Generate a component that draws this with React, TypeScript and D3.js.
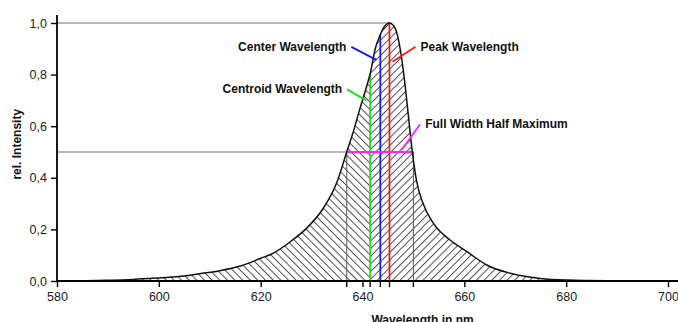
import { useEffect, useRef } from 'react';
import * as d3 from 'd3';

// spectrum
const wavelengths = [
  583, 588, 595, 600, 605, 608, 612, 616, 620, 622.5, 625.8, 629, 632.3, 634.9, 636.9,
  638.2, 639.5, 640.8, 641.6, 642.5, 643.4, 644.1, 645.3, 646.4, 647.4, 648.3, 649,
  649.7, 650.6, 651.9, 653.9, 657.2, 660.5, 664.4, 669, 674.9, 680.1, 690, 700,
];
const intensity = [
  0, 0.002, 0.006, 0.012, 0.019, 0.028, 0.04, 0.058, 0.088, 0.108, 0.152, 0.204, 0.282,
  0.379, 0.5, 0.579, 0.669, 0.753, 0.811, 0.9, 0.95, 0.98, 1.0, 0.98, 0.9, 0.77, 0.643,
  0.514, 0.39, 0.3, 0.224, 0.159, 0.114, 0.062, 0.03, 0.01, 0.004, 0.001, 0,
];

const xTicks = [580, 600, 620, 640, 660, 680, 700];
const yTicks = [0, 0.2, 0.4, 0.6, 0.8, 1.0];
const yTickLabels = ['0,0', '0,2', '0,4', '0,6', '0,8', '1,0'];

const fwhmLeft = 636.9;
const fwhmRight = 650.0;
const centroidWl = 641.5;
const centerWl = 643.5;
const peakWl = 645.3;

const WIDTH = 678;
const HEIGHT = 322;
const FONT = '"Liberation Sans", Arial, sans-serif';

export default function App() {
  const svgRef = useRef<SVGSVGElement>(null);

  useEffect(() => {
    if (!svgRef.current) return;
    const svg = d3.select(svgRef.current);
    svg.selectAll('*').remove();

    const x = d3.scaleLinear().domain([580, 700]).range([57, 668]);
    const y = d3.scaleLinear().domain([0, 1]).range([281, 23]);
    // piecewise linear lookup of the curve height
    const curveAt = d3.scaleLinear().domain(wavelengths).range(intensity);

    const pts: [number, number][] = wavelengths.map((w, i) => [w, intensity[i]]);

    const defs = svg.append('defs');
    const hatch = (id: string, angle: number) => {
      const p = defs
        .append('pattern')
        .attr('id', id)
        .attr('patternUnits', 'userSpaceOnUse')
        .attr('width', 5.4)
        .attr('height', 10)
        .attr('patternTransform', `rotate(${angle})`);
      p.append('line')
        .attr('x1', 0.5)
        .attr('y1', 0)
        .attr('x2', 0.5)
        .attr('y2', 10)
        .attr('stroke', '#333')
        .attr('stroke-width', 0.9);
    };
    hatch('hatchBack', -45);
    hatch('hatchFwd', 45);

    const area = d3
      .area<[number, number]>()
      .x((d) => x(d[0]))
      .y0(y(0))
      .y1((d) => y(d[1]))
      .curve(d3.curveMonotoneX);

    defs.append('clipPath').attr('id', 'specClip').append('path').attr('d', area(pts)!);

    const g = svg.append('g');

    // hatched fill, direction changes at the centroid
    g.append('rect')
      .attr('x', x(580))
      .attr('y', y(1.05))
      .attr('width', x(centroidWl) - x(580))
      .attr('height', y(0) - y(1.05))
      .attr('fill', 'url(#hatchBack)')
      .attr('clip-path', 'url(#specClip)');
    g.append('rect')
      .attr('x', x(centroidWl))
      .attr('y', y(1.05))
      .attr('width', x(700) - x(centroidWl))
      .attr('height', y(0) - y(1.05))
      .attr('fill', 'url(#hatchFwd)')
      .attr('clip-path', 'url(#specClip)');

    // reference lines
    g.append('line')
      .attr('x1', x(580))
      .attr('x2', x(peakWl))
      .attr('y1', y(1))
      .attr('y2', y(1))
      .attr('stroke', '#777')
      .attr('stroke-width', 1.2);
    g.append('line')
      .attr('x1', x(580))
      .attr('x2', x(fwhmLeft))
      .attr('y1', y(0.5))
      .attr('y2', y(0.5))
      .attr('stroke', '#777')
      .attr('stroke-width', 1.2);
    [fwhmLeft, fwhmRight].forEach((w) => {
      g.append('line')
        .attr('x1', x(w))
        .attr('x2', x(w))
        .attr('y1', y(0))
        .attr('y2', y(0.5))
        .attr('stroke', '#666')
        .attr('stroke-width', 1.1);
    });

    // colored markers
    const markers: [number, string][] = [
      [centroidWl, '#22dd22'],
      [centerWl, '#1a1aff'],
      [peakWl, '#ff1a1a'],
    ];
    markers.forEach(([w, c]) => {
      g.append('line')
        .attr('x1', x(w))
        .attr('x2', x(w))
        .attr('y1', y(0))
        .attr('y2', y(curveAt(w)))
        .attr('stroke', c)
        .attr('stroke-width', 1.8);
    });
    g.append('line')
      .attr('x1', x(fwhmLeft))
      .attr('x2', x(fwhmRight))
      .attr('y1', y(0.5))
      .attr('y2', y(0.5))
      .attr('stroke', '#ff22ff')
      .attr('stroke-width', 1.8);

    // spectrum outline
    const line = d3
      .line<[number, number]>()
      .x((d) => x(d[0]))
      .y((d) => y(d[1]))
      .curve(d3.curveMonotoneX);
    g.append('path')
      .attr('d', line(pts)!)
      .attr('fill', 'none')
      .attr('stroke', '#111')
      .attr('stroke-width', 1.5);

    // axes
    const xAxis = d3
      .axisBottom(x)
      .tickValues(xTicks)
      .tickSize(6)
      .tickSizeOuter(0)
      .tickPadding(5)
      .tickFormat((d) => String(d));
    const xg = g.append('g').attr('transform', `translate(0,${y(0)})`).call(xAxis);
    xg.select('.domain').attr('d', `M${x(580)},0H${WIDTH}`).attr('stroke', '#000').attr('stroke-width', 1.8);
    xg.selectAll('.tick line').attr('stroke', '#000').attr('stroke-width', 1.4);
    xg.selectAll('.tick text')
      .attr('font-family', FONT)
      .attr('font-size', 12.5)
      .attr('fill', '#222');

    // short ticks at the marked wavelengths
    [fwhmLeft, centroidWl, centerWl, peakWl, fwhmRight].forEach((w) => {
      g.append('line')
        .attr('x1', x(w))
        .attr('x2', x(w))
        .attr('y1', y(0))
        .attr('y2', y(0) + 6)
        .attr('stroke', '#000')
        .attr('stroke-width', 1.4);
    });

    const yAxis = d3
      .axisLeft(y)
      .tickValues(yTicks)
      .tickSize(6)
      .tickSizeOuter(0)
      .tickPadding(4)
      .tickFormat((_, i) => yTickLabels[i]);
    const yg = g.append('g').attr('transform', `translate(${x(580)},0)`).call(yAxis);
    yg.select('.domain').attr('d', `M0,${y(0)}V15`).attr('stroke', '#000').attr('stroke-width', 1.8);
    yg.selectAll('.tick line').attr('stroke', '#000').attr('stroke-width', 1.4);
    yg.selectAll('.tick text')
      .attr('font-family', FONT)
      .attr('font-size', 12.5)
      .attr('fill', '#222');

    // axis titles
    g.append('text')
      .attr('transform', `translate(21,${y(0.53)}) rotate(-90)`)
      .attr('text-anchor', 'middle')
      .attr('font-family', FONT)
      .attr('font-weight', 'bold')
      .attr('font-size', 12)
      .attr('fill', '#111')
      .text('rel. Intensity');
    g.append('text')
      .attr('x', x(651.8))
      .attr('y', 324)
      .attr('text-anchor', 'middle')
      .attr('font-family', FONT)
      .attr('font-weight', 'bold')
      .attr('font-size', 12)
      .attr('fill', '#111')
      .text('Wavelength in nm');

    // annotations: label, color, anchor wavelength/intensity, leader offset, text side
    const notes: { text: string; color: string; wl: number; at: number; dx: number; dy: number; side: 'l' | 'r' }[] = [
      { text: 'Center Wavelength', color: '#1a1aff', wl: centerWl, at: 0.857, dx: -25, dy: -13, side: 'l' },
      { text: 'Peak Wavelength', color: '#ff1a1a', wl: peakWl, at: 0.85, dx: 23, dy: -15, side: 'r' },
      { text: 'Centroid Wavelength', color: '#22dd22', wl: centroidWl, at: 0.70, dx: -19, dy: -11, side: 'l' },
      { text: 'Full Width Half Maximum', color: '#ff22ff', wl: 647.0, at: 0.507, dx: 19, dy: -26, side: 'r' },
    ];
    notes.forEach((n) => {
      const ex = x(n.wl) + (n.side === 'l' ? -4 : 3);
      const ey = y(n.at);
      const sx = ex + n.dx;
      const sy = ey + n.dy;
      g.append('line')
        .attr('x1', sx)
        .attr('y1', sy)
        .attr('x2', ex)
        .attr('y2', ey)
        .attr('stroke', n.color)
        .attr('stroke-width', 1.8);
      g.append('text')
        .attr('x', n.side === 'l' ? sx - 5 : sx + 5)
        .attr('y', sy + 4)
        .attr('text-anchor', n.side === 'l' ? 'end' : 'start')
        .attr('font-family', FONT)
        .attr('font-weight', 'bold')
        .attr('font-size', 12)
        .attr('fill', '#111')
        .text(n.text);
    });
  }, []);

  return (
    <svg
      ref={svgRef}
      width={WIDTH}
      height={HEIGHT}
      viewBox={`0 0 ${WIDTH} ${HEIGHT}`}
      style={{ position: 'absolute', left: 0, top: 0, background: '#fff' }}
    />
  );
}
